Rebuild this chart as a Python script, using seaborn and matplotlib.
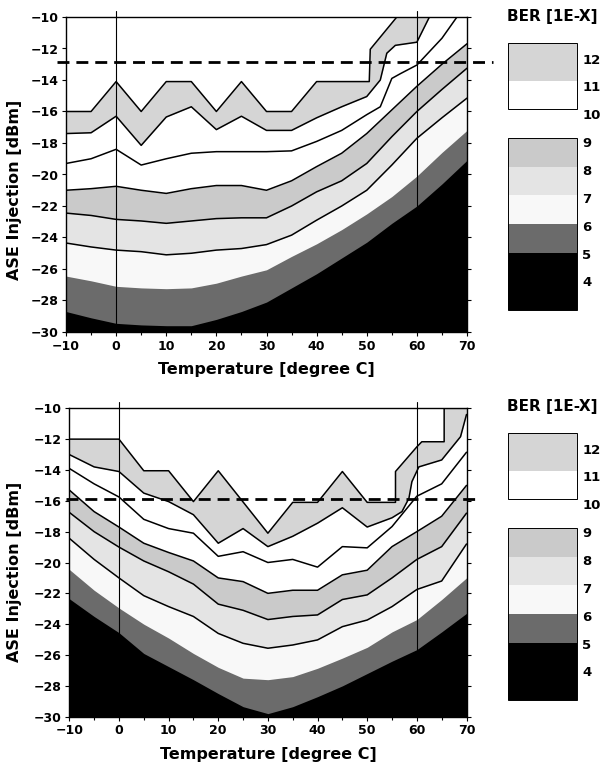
import numpy as np
import pandas as pd
import matplotlib
matplotlib.use("Agg")
import matplotlib.pyplot as plt
import seaborn as sns

# ---------------- data ----------------
TEMPS = [-10, -5, 0, 5, 10, 15, 20, 25, 30, 35, 40, 45, 50, 55, 60, 65, 70]

# ---- top panel: contour lines of BER = 1E-level ----
TOP_L12_X = [-10, -5, 0, 5, 10, 15, 20, 25, 30, 35, 40, 45, 50.5, 50.7, 56, 70]
TOP_L12_Y = [-16, -16, -14.1, -16, -14.1, -14.1, -16, -14.1, -16, -16, -14.1, -14.1, -14.1, -12.05, -10, -10]
TOP_L11_X = [-10, -5, 0, 5, 10, 15, 20, 25, 30, 35, 40, 45, 50, 52.7, 54, 55.7, 60, 62.5, 70]
TOP_L11_Y = [-17.4, -17.35, -16.3, -18.15, -16.35, -15.7, -17.15, -16.3, -17.2, -17.2, -16.4, -15.7, -15.05,
             -14.0, -12.3, -11.8, -11.6, -10, -10]
TOP_L10_X = [-10, -5, 0, 5, 10, 15, 20, 25, 30, 35, 40, 45, 50, 52.7, 55, 56.7, 60, 65, 68, 70]
TOP_L10_Y = [-19.3, -19.0, -18.4, -19.4, -19.0, -18.65, -18.55, -18.55, -18.55, -18.5, -17.9, -17.2, -16.2,
             -15.7, -13.9, -13.6, -13.05, -11.35, -10, -10]
TOP_L9_Y = [-21.0, -20.9, -20.75, -21.0, -21.2, -20.9, -20.7, -20.7, -21.0, -20.4, -19.5, -18.65, -17.4,
            -15.9, -14.4, -13.0, -11.7]
TOP_L8_Y = [-22.45, -22.6, -22.85, -22.95, -23.1, -22.95, -22.8, -22.75, -22.75, -22.0, -21.1, -20.4, -19.3,
            -17.6, -16.0, -14.6, -13.25]
TOP_L7_Y = [-24.35, -24.6, -24.8, -24.9, -25.1, -25.0, -24.8, -24.7, -24.45, -23.85, -22.9, -22.0, -21.0,
            -19.4, -17.7, -16.4, -15.15]
TOP_L6_Y = [-26.45, -26.75, -27.1, -27.2, -27.25, -27.2, -26.9, -26.45, -26.05, -25.2, -24.4, -23.5, -22.5,
            -21.4, -20.1, -18.6, -17.2]
TOP_L5_Y = [-28.7, -29.1, -29.45, -29.55, -29.6, -29.6, -29.2, -28.7, -28.1, -27.2, -26.3, -25.3, -24.3,
            -23.1, -22.0, -20.6, -19.1]
TOP_LIMIT = -12.85

# ---- bottom panel ----
BOT_L12_X = [-10, 0, 5, 10, 15, 20, 30, 35, 40, 45, 50, 55.7, 55.7, 60, 61, 65.5, 65.5, 70]
BOT_L12_Y = [-12.0, -12.0, -14.05, -14.05, -16.05, -14.05, -18.1, -16.1, -16.1, -14.1, -16.1, -16.1, -14.1,
             -12.5, -12.17, -12.17, -10, -10]
BOT_L11_X = [-10, -5, 0, 5, 10, 15, 20, 25, 30, 35, 40, 45, 50, 55, 57, 58.4, 59, 60.4, 65, 68.8, 70]
BOT_L11_Y = [-13.0, -13.8, -14.1, -15.5, -16.05, -16.9, -18.75, -17.8, -18.97, -18.3, -17.45, -16.45, -17.7,
             -17.1, -16.7, -15.84, -14.76, -13.8, -13.35, -11.84, -10.4]
BOT_L10_Y = [-13.9, -14.9, -15.75, -17.2, -17.8, -18.1, -19.6, -19.3, -20.0, -19.8, -20.3, -18.97, -19.05,
             -17.67, -15.7, -14.9, -12.85]
BOT_L9_Y = [-15.3, -16.7, -17.7, -18.75, -19.35, -19.9, -21.0, -21.24, -22.0, -21.8, -21.8, -20.8, -20.5,
            -18.97, -18.0, -17.0, -15.0]
BOT_L8_Y = [-16.75, -18.0, -19.0, -19.9, -20.6, -21.4, -22.7, -23.1, -23.7, -23.5, -23.4, -22.4, -22.1,
            -21.0, -19.8, -18.97, -16.8]
BOT_L7_Y = [-18.43, -19.8, -21.0, -22.15, -22.86, -23.5, -24.6, -25.24, -25.56, -25.35, -25.02, -24.16, -23.73,
            -22.86, -21.75, -21.2, -18.8]
BOT_L6_Y = [-20.45, -21.8, -22.95, -24.0, -24.9, -25.9, -26.8, -27.5, -27.6, -27.4, -26.86, -26.2, -25.5,
            -24.5, -23.7, -22.4, -21.0]
BOT_L5_Y = [-22.35, -23.5, -24.55, -25.9, -26.75, -27.6, -28.5, -29.35, -29.8, -29.35, -28.7, -28.0, -27.2,
            -26.4, -25.65, -24.5, -23.3]
BOT_LIMIT = -15.85

LEGEND_LEVELS = [12, 11, 10, 9, 8, 7, 6, 5, 4]
LINE_LEVELS = [12, 11, 10, 9, 8, 7]          # levels drawn with a contour line
X_TICKS = [-10, 0, 10, 20, 30, 40, 50, 60, 70]
Y_TICKS = [-30, -28, -26, -24, -22, -20, -18, -16, -14, -12, -10]
REF_TEMPS = [0, 60]

# colour of the band just below each level line
BAND = {12: "#d5d5d5", 11: "#ffffff", 10: "#ffffff", 9: "#cacaca",
        8: "#e4e4e4", 7: "#f8f8f8", 6: "#6b6b6b", 5: "#000000"}

top_curves = [(12, TOP_L12_X, TOP_L12_Y), (11, TOP_L11_X, TOP_L11_Y), (10, TOP_L10_X, TOP_L10_Y),
              (9, TEMPS, TOP_L9_Y), (8, TEMPS, TOP_L8_Y), (7, TEMPS, TOP_L7_Y),
              (6, TEMPS, TOP_L6_Y), (5, TEMPS, TOP_L5_Y)]
bot_curves = [(12, BOT_L12_X, BOT_L12_Y), (11, BOT_L11_X, BOT_L11_Y), (10, TEMPS, BOT_L10_Y),
              (9, TEMPS, BOT_L9_Y), (8, TEMPS, BOT_L8_Y), (7, TEMPS, BOT_L7_Y),
              (6, TEMPS, BOT_L6_Y), (5, TEMPS, BOT_L5_Y)]

# ---------------- style ----------------
sns.set_theme(style="ticks")
plt.rcParams["font.family"] = ["DejaVu Sans"]
plt.rcParams["font.weight"] = "bold"
plt.rcParams["axes.labelweight"] = "bold"
plt.rcParams["axes.edgecolor"] = "black"
plt.rcParams["axes.labelcolor"] = "black"
plt.rcParams["text.color"] = "black"
plt.rcParams["xtick.color"] = "black"
plt.rcParams["ytick.color"] = "black"
plt.rcParams["xtick.labelcolor"] = "black"
plt.rcParams["ytick.labelcolor"] = "black"

fig = plt.figure(figsize=(6.03, 7.73), dpi=100)


def draw_panel(rect, curves, limit, dash_x, ylab_xy):
    ax = fig.add_axes(rect)
    ax.set_facecolor("white")
    for level, xs, ys in curves:
        ax.fill_between(xs, ys, -30, color=BAND[level], lw=0, zorder=1)
    for level, xs, ys in curves:
        if level in LINE_LEVELS:
            df = pd.DataFrame({"Temperature": xs, "ASE": ys})
            sns.lineplot(data=df, x="Temperature", y="ASE", estimator=None, sort=False,
                         color="black", lw=1.1, ax=ax, zorder=3)
    for t in REF_TEMPS:
        ax.plot([t, t], [-30, -9.6], color="black", lw=0.8, zorder=4, clip_on=False)
    ax.plot(dash_x, [limit, limit], color="black", lw=2.0, ls=(0, (4.3, 2.5)),
            zorder=5, clip_on=False)
    ax.set_xlim(-10, 70)
    ax.set_ylim(-30, -10)
    ax.set_xticks(X_TICKS)
    ax.set_xticks(np.arange(-5, 70, 10), minor=True)
    ax.set_yticks(Y_TICKS)
    ax.tick_params(axis="both", which="major", direction="out", length=3, width=0.8,
                   labelsize=9, pad=2.5, colors="black")
    ax.tick_params(axis="x", which="minor", direction="out", length=2.5, width=0.8, colors="black")
    ax.tick_params(axis="y", right=True)
    for lab in ax.get_xticklabels() + ax.get_yticklabels():
        lab.set_fontweight("bold")
        lab.set_color("black")
    for sp in ax.spines.values():
        sp.set_visible(True)
        sp.set_color("black")
        sp.set_linewidth(1.0)
        sp.set_zorder(6)
    ax.set_xlabel("Temperature [degree C]", fontsize=11.5, fontweight="bold", labelpad=7, color="black")
    ax.set_ylabel("ASE Injection [dBm]", fontsize=11.5, fontweight="bold", color="black")
    ax.yaxis.set_label_coords(*ylab_xy)
    return ax


def draw_legend(rect):
    lg = fig.add_axes(rect)
    lg.set_xlim(0, 1)
    lg.set_ylim(2.8, 13.6)
    lg.axis("off")
    segs = [(11, 12.3, BAND[12]), (10, 11, BAND[11]), (8, 9, BAND[9]), (7, 8, BAND[8]),
            (6, 7, BAND[7]), (5, 6, BAND[6]), (3, 5, BAND[5])]
    for lo, hi, c in segs:
        lg.bar(0.413, hi - lo, bottom=lo, width=0.67, color=c, edgecolor="none")
    for lo, hi in [(10, 12.3), (3, 9)]:
        lg.bar(0.413, hi - lo, bottom=lo, width=0.67, fill=False, edgecolor="black", lw=0.7)
    for L in LEGEND_LEVELS:
        lg.text(0.80, 3.95 + (L - 4) * 0.971, str(L), fontsize=9.5, fontweight="bold",
                va="center", ha="left", color="black")
    lg.text(0.07, 13.25, "BER [1E-X]", fontsize=11, fontweight="bold", va="center", ha="left",
            color="black")
    return lg


draw_panel([66 / 603, 1 - 332 / 773, 401 / 603, 315 / 773], top_curves, TOP_LIMIT,
           [-11.8, 75.2], (-0.11, 0.451))
draw_panel([69.3 / 603, 1 - 716.7 / 773, 397.2 / 603, 308.4 / 773], bot_curves, BOT_LIMIT,
           [-10.7, 72.8], (-0.119, 0.469))
draw_legend([500 / 603, 1 - 316 / 773, 103 / 603, 310 / 773])
draw_legend([500 / 603, 1 - 706 / 773, 103 / 603, 310 / 773])

fig.savefig("out.png", dpi=100)
